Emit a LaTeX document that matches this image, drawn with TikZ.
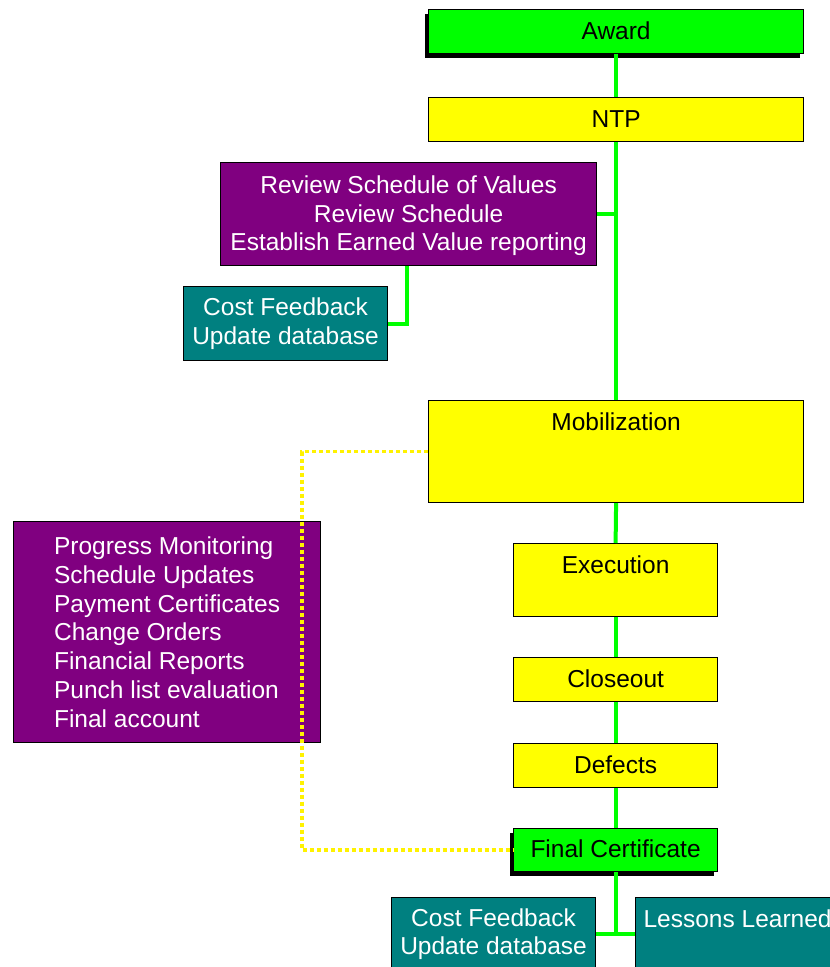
\documentclass[tikz,border=0pt]{standalone}
\usepackage{fontspec}
\setmainfont{Liberation Sans}
\usetikzlibrary{shadows}
\definecolor{boxgreen}{HTML}{00FF00}
\definecolor{boxyellow}{HTML}{FFFF00}
\definecolor{boxpurple}{HTML}{800080}
\definecolor{boxteal}{HTML}{008080}

\tikzset{
  box/.style={draw=black, line width=1.2pt, inner sep=0pt, anchor=north west,
    align=center, font=\fontsize{24.5}{28.8}\selectfont},
  milestone/.style={box, fill=boxgreen, text=black, text depth=2pt,
    drop shadow={shadow xshift=-4pt, shadow yshift=-4pt, fill=black, opacity=1}},
  phase/.style={box, fill=boxyellow, text=black, text depth=2pt},
  task/.style={box, fill=boxpurple, text=white},
  feedback/.style={box, fill=boxteal, text=white},
  toptext/.style={text height=30pt, text depth=#1},
  link/.style={draw=boxgreen, line width=4pt},
  relation/.style={draw=yellow, line width=3.5pt, dash pattern=on 4pt off 3pt},
}

\begin{document}
\begin{tikzpicture}[x=1pt, y=-1pt]
\useasboundingbox (0,0) rectangle (830,967);
\clip (0,0) rectangle (830,967);

% milestones and phases along the main spine
\node[milestone, minimum width=375pt, minimum height=44pt] (award) at (428,9) {Award};
\node[phase, minimum width=375pt, minimum height=44pt] (ntp) at (428,97) {NTP};
\node[phase, minimum width=375pt, minimum height=102pt, toptext=72pt] (mob) at (428,400) {Mobilization};
\node[phase, minimum width=204pt, minimum height=73pt, toptext=43pt] (exe) at (513,543) {Execution};
\node[phase, minimum width=204pt, minimum height=44pt] (close) at (513,657) {Closeout};
\node[phase, minimum width=204pt, minimum height=44pt] (def) at (513,743) {Defects};
\node[milestone, minimum width=204pt, minimum height=43pt] (fc) at (513,828) {Final Certificate};

% side activities
\node[task, minimum width=376pt, minimum height=103pt] (rev) at (220,162)
  {\rule{0pt}{21pt}Review Schedule of Values\\Review Schedule\\Establish Earned Value reporting};
\node[feedback, minimum width=204pt, minimum height=74pt] (cost1) at (183,286)
  {Cost Feedback\\Update database};
\node[task, minimum width=307pt, minimum height=221pt, align=left] (mon) at (13,521)
  {Progress Monitoring\\Schedule Updates\\Payment Certificates\\Change Orders\\Financial Reports\\Punch list evaluation\\Final account};
\node[feedback, minimum width=204pt, minimum height=72pt] (cost2) at (391,897)
  {\rule{0pt}{19pt}Cost Feedback\\Update database};
\node[feedback, minimum width=204pt, minimum height=72pt, toptext=42pt] (lessons) at (635,897)
  {Lessons Learned};

% connectors
\draw[link] (award.south) -- (ntp.north);
\draw[link] (ntp.south) -- (mob.north);
\draw[link] (rev.east) -- (rev.east -| ntp.south);
\draw[link] ([xshift=187pt]rev.south west) |- (cost1.east);
\draw[link] (mob.south) -- (exe.north);
\draw[link] (exe.south) -- (close.north);
\draw[link] (close.south) -- (def.north);
\draw[link] (def.south) -- (fc.north);
\draw[link] (fc.south) -- (fc.south |- cost2.east);
\draw[link] (cost2.east) -- (lessons.west);

% monitoring span from mobilization to final certificate
\draw[relation] (mob.west) -- ++(-126,0) |- (fc.west);
\end{tikzpicture}
\end{document}
